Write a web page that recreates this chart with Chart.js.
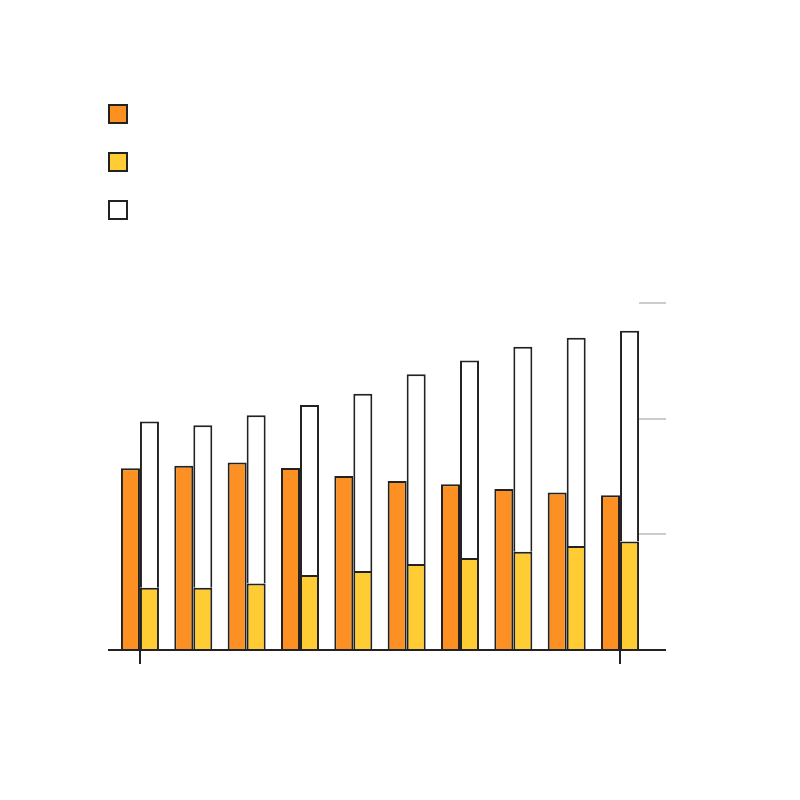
<!DOCTYPE html>
<html>
<head>
<meta charset="utf-8">
<script src="https://cdn.jsdelivr.net/npm/chart.js@4/dist/chart.umd.min.js"></script>
<style>
  html, body { margin: 0; padding: 0; background: #fff; }
  #wrap { width: 800px; height: 800px; }
</style>
</head>
<body>
<div id="wrap"><canvas id="chart" width="800" height="800"></canvas></div>
<script>
const categories = ['G1', 'G2', 'G3', 'G4', 'G5', 'G6', 'G7', 'G8', 'G9', 'G10'];
const orangeValues = [15.72, 15.94, 16.2, 15.74, 15.05, 14.62, 14.33, 13.93, 13.61, 13.38];
const yellowValues = [5.39, 5.39, 5.74, 6.49, 6.83, 7.44, 7.96, 8.5, 9.0, 9.37];
const whiteValues = [14.36, 14.05, 14.56, 14.7, 15.32, 16.41, 17.07, 17.71, 17.99, 18.23];
const yTicks = [10, 20, 30];

const ink = '#222222';

// baseline, end ticks, short grid marks on the right and the box legend
const decorPlugin = {
  id: 'decor',
  afterDraw(chart) {
    const ctx = chart.ctx;
    const x = chart.scales.x;
    const y = chart.scales.y;
    const base = y.getPixelForValue(0);
    const lastMeta = chart.getDatasetMeta(2);
    const lastBar = lastMeta.data[lastMeta.data.length - 1];
    const gridStart = lastBar.x + lastBar.width / 2;
    const gridEnd = gridStart + 27;

    ctx.save();
    ctx.strokeStyle = '#cccccc';
    ctx.lineWidth = 2;
    for (const v of yTicks) {
      const py = Math.round(y.getPixelForValue(v));
      ctx.beginPath();
      ctx.moveTo(gridStart, py);
      ctx.lineTo(gridEnd, py);
      ctx.stroke();
    }

    ctx.strokeStyle = ink;
    ctx.lineWidth = 2;
    ctx.beginPath();
    ctx.moveTo(108, base);
    ctx.lineTo(gridEnd, base);
    ctx.stroke();

    for (const i of [0, categories.length - 1]) {
      const px = Math.round(x.getPixelForValue(i));
      ctx.beginPath();
      ctx.moveTo(px, base);
      ctx.lineTo(px, base + 14);
      ctx.stroke();
    }

    // legend boxes
    chart.data.datasets.forEach((ds, i) => {
      const top = 104 + i * 48;
      ctx.fillStyle = ds.backgroundColor;
      ctx.fillRect(108, top, 20, 20);
      ctx.strokeStyle = ink;
      ctx.lineWidth = 2;
      ctx.strokeRect(109, top + 1, 18, 18);
    });
    ctx.restore();
  }
};

const barStyle = {
  borderColor: ink,
  borderWidth: 2,
  categoryPercentage: 0.7125,
  barPercentage: 1
};

new Chart(document.getElementById('chart').getContext('2d'), {
  type: 'bar',
  data: {
    labels: categories,
    datasets: [
      { label: 'orange', data: orangeValues, backgroundColor: '#fc9022', stack: 'a', ...barStyle },
      { label: 'yellow', data: yellowValues, backgroundColor: '#ffcc33', stack: 'b', ...barStyle },
      { label: 'white', data: whiteValues, backgroundColor: '#ffffff', stack: 'b', ...barStyle }
    ]
  },
  options: {
    responsive: false,
    animation: false,
    layout: { padding: { left: 113.3, right: 153.3, top: 303, bottom: 150 } },
    plugins: {
      legend: { display: false },
      tooltip: { enabled: false }
    },
    scales: {
      x: {
        display: false,
        stacked: true,
        offset: true
      },
      y: {
        display: false,
        stacked: true,
        min: 0,
        max: 30
      }
    }
  },
  plugins: [decorPlugin]
});
</script>
</body>
</html>
